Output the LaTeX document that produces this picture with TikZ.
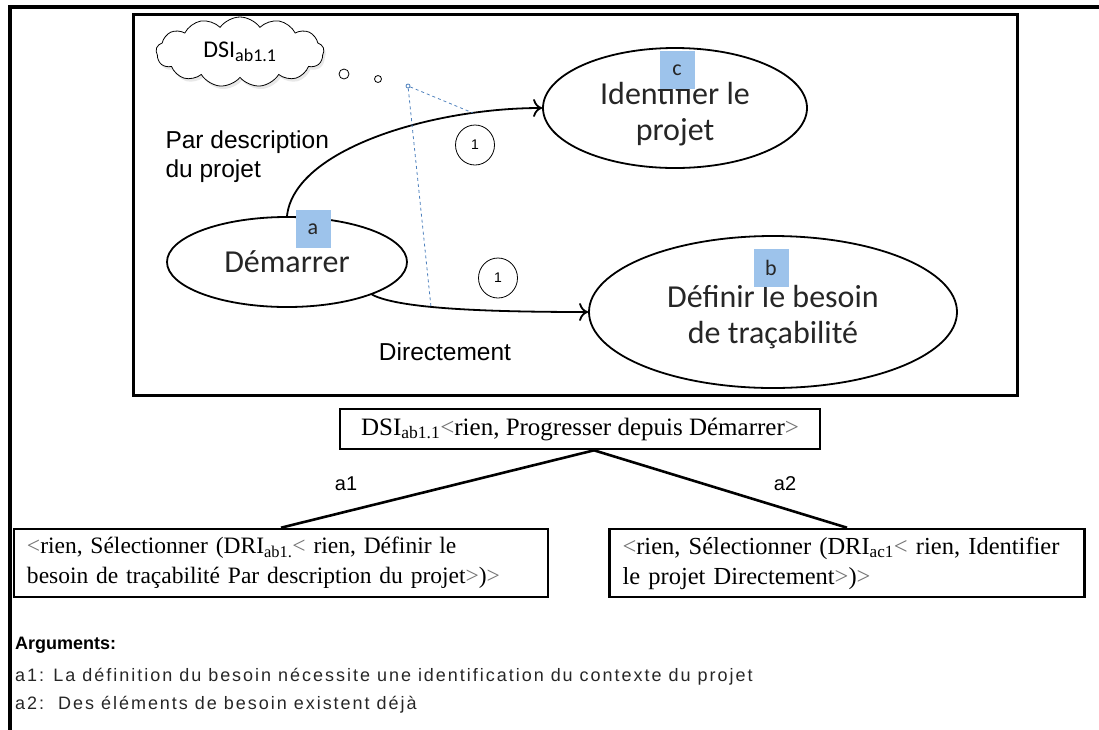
\documentclass[tikz,border=0pt]{standalone}
\usepackage{fontspec}
\setmainfont{Liberation Serif}
\newfontfamily\carl{Carlito}
\newfontfamily\arial{Liberation Sans}
\newfontfamily\arialsp[LetterSpace=11]{Liberation Sans}
\usetikzlibrary{shapes.geometric,shapes.symbols,arrows.meta,calc,shadows}
\definecolor{tagblue}{RGB}{157,195,235}
\definecolor{dashblue}{RGB}{79,129,189}
\newcommand{\lt}{\textcolor{black!55}{<}}
\newcommand{\gt}{\textcolor{black!55}{>}}
\begin{document}
\begin{tikzpicture}[x=1pt,y=-1pt,
  ell/.style={draw, ellipse, line width=1.8pt, inner sep=0pt, align=center,
    font=\carl\fontsize{32}{36}\selectfont, text=black!85},
  tag/.style={fill=tagblue, minimum width=35pt, minimum height=38pt, inner sep=0pt,
    font=\carl\fontsize{22}{22}\selectfont, text=black!85},
  arr/.style={line width=1.8pt, -{To[length=9pt,width=18pt]}},
  num/.style={draw, ellipse, line width=0.8pt, minimum width=39pt, minimum height=40pt,
    inner sep=0pt, font=\arial\fontsize{14}{14}\selectfont},
  sans/.style={font=\arial\fontsize{24.5}{29}\selectfont, align=left},
  tbox/.style={draw, line width=2.6pt, inner ysep=0pt, inner xsep=13pt, align=left},
  dsh/.style={dashblue, dashed, line width=0.8pt},
  tree/.style={line width=2.6pt}
]
\useasboundingbox (0,0) rectangle (1099,729);
\begin{scope}
\clip (0,0) rectangle (1099,729);
\draw[line width=4pt] (10,7) rectangle (1120,750);
\end{scope}
% inner frame
\draw[line width=3pt] (133,14) rectangle (1017,395);
% cloud
\node[cloud, cloud puffs=13, cloud puff arc=110, aspect=2.4, draw, fill=white, line width=0.8pt,
  minimum width=168pt, minimum height=70pt, inner sep=0pt,
  drop shadow={opacity=0.18, shadow xshift=2pt, shadow yshift=-3pt},
  font=\carl\fontsize{24}{24}\selectfont] (cl) at (240,52)
  {DSI\textsubscript{\fontsize{18}{18}\selectfont ab1.1}};
\node[draw, circle, line width=0.8pt, minimum size=10pt, inner sep=0pt] (o1) at (344,74) {};
\node[draw, circle, line width=0.8pt, minimum size=7pt, inner sep=0pt] (o2) at (378,79) {};
\node[draw=dashblue, circle, line width=0.8pt, minimum size=4pt, inner sep=0pt] (dot) at (408,86) {};
% ellipses
\node[ell, minimum width=240pt, minimum height=90pt] (a) at (287,262) {D\'emarrer};
\node[ell, minimum width=264pt, minimum height=120pt] (c) at (675,108) {\\[-2pt]Identifier le\\projet};
\node[ell, minimum width=368pt, minimum height=152pt] (b) at (773,312) {\\[-4pt]D\'efinir le besoin\\de tra\c{c}abilit\'e};
\node[tag] (ta) at (313,229) {a};
\node[tag] (tc) at (677,70) {c};
\node[tag] (tb) at (771,268) {b};
% connectors
\draw[arr] (a.north) .. controls +(7,-67) and +(-110,0) .. (c.west);
\draw[arr] (a.-21) .. controls +(25,13) and +(-115,0) .. (b.west);
\coordinate (d1) at (473,113);
\coordinate (d2) at (431,307);
\draw[dsh] (dot) -- (d1);
\draw[dsh] (dot) -- (d2);
\node[num] (n1) at (475,145) {1};
\node[num] (n2) at (498,278) {1};
\node[sans, anchor=west] (lp) at (162,157) {Par description\\du projet};
\node[sans] (ld) at (445,352) {Directement};
% tree
\node[tbox, minimum width=480pt, minimum height=40pt, font=\fontsize{25}{30}\selectfont] (root) at (580,429)
  {DSI\textsubscript{ab1.1}\lt rien, Progresser depuis D\'emarrer\gt};
\node[tbox, minimum width=534pt, minimum height=68pt, text width=508pt,
  font=\fontsize{23.5}{30}\selectfont] (lb) at (281,563)
  {\lt rien, S\'electionner (DRI\textsubscript{ab1.}\lt\ rien, D\'efinir le\\besoin de tra\c{c}abilit\'e Par description du projet\gt)\gt};
\node[tbox, minimum width=475pt, minimum height=68pt, text width=449pt,
  font=\fontsize{24.5}{30}\selectfont] (rb) at (847,563)
  {\lt rien, S\'electionner (DRI\textsubscript{ac1}\lt\ rien, Identifier\\le projet Directement\gt)\gt};
\coordinate (j) at ($(root.south)+(14,0)$);
\draw[tree] (j) -- (lb.north);
\draw[tree] (j) -- (rb.north);
\node[font=\arial\fontsize{20}{20}\selectfont] (la1) at (346,484) {a1};
\node[font=\arial\fontsize{20}{20}\selectfont] (la2) at (785,484) {a2};
% arguments
\node[anchor=west, inner sep=0pt, font=\arial\bfseries\fontsize{18}{18}\selectfont] (arg) at (15,645) {Arguments:};
\node[anchor=west, inner sep=0pt, font=\arialsp\fontsize{18}{18}\selectfont, text=black!85] (g1) at (15,677)
  {a1: La d\'efinition du besoin n\'ecessite une identification du contexte du projet};
\node[anchor=west, inner sep=0pt, font=\arialsp\fontsize{18}{18}\selectfont, text=black!85] (g2) at (15,705)
  {a2:\ \ Des \'el\'ements de besoin existent d\'ej\`a};
\end{tikzpicture}
\end{document}
